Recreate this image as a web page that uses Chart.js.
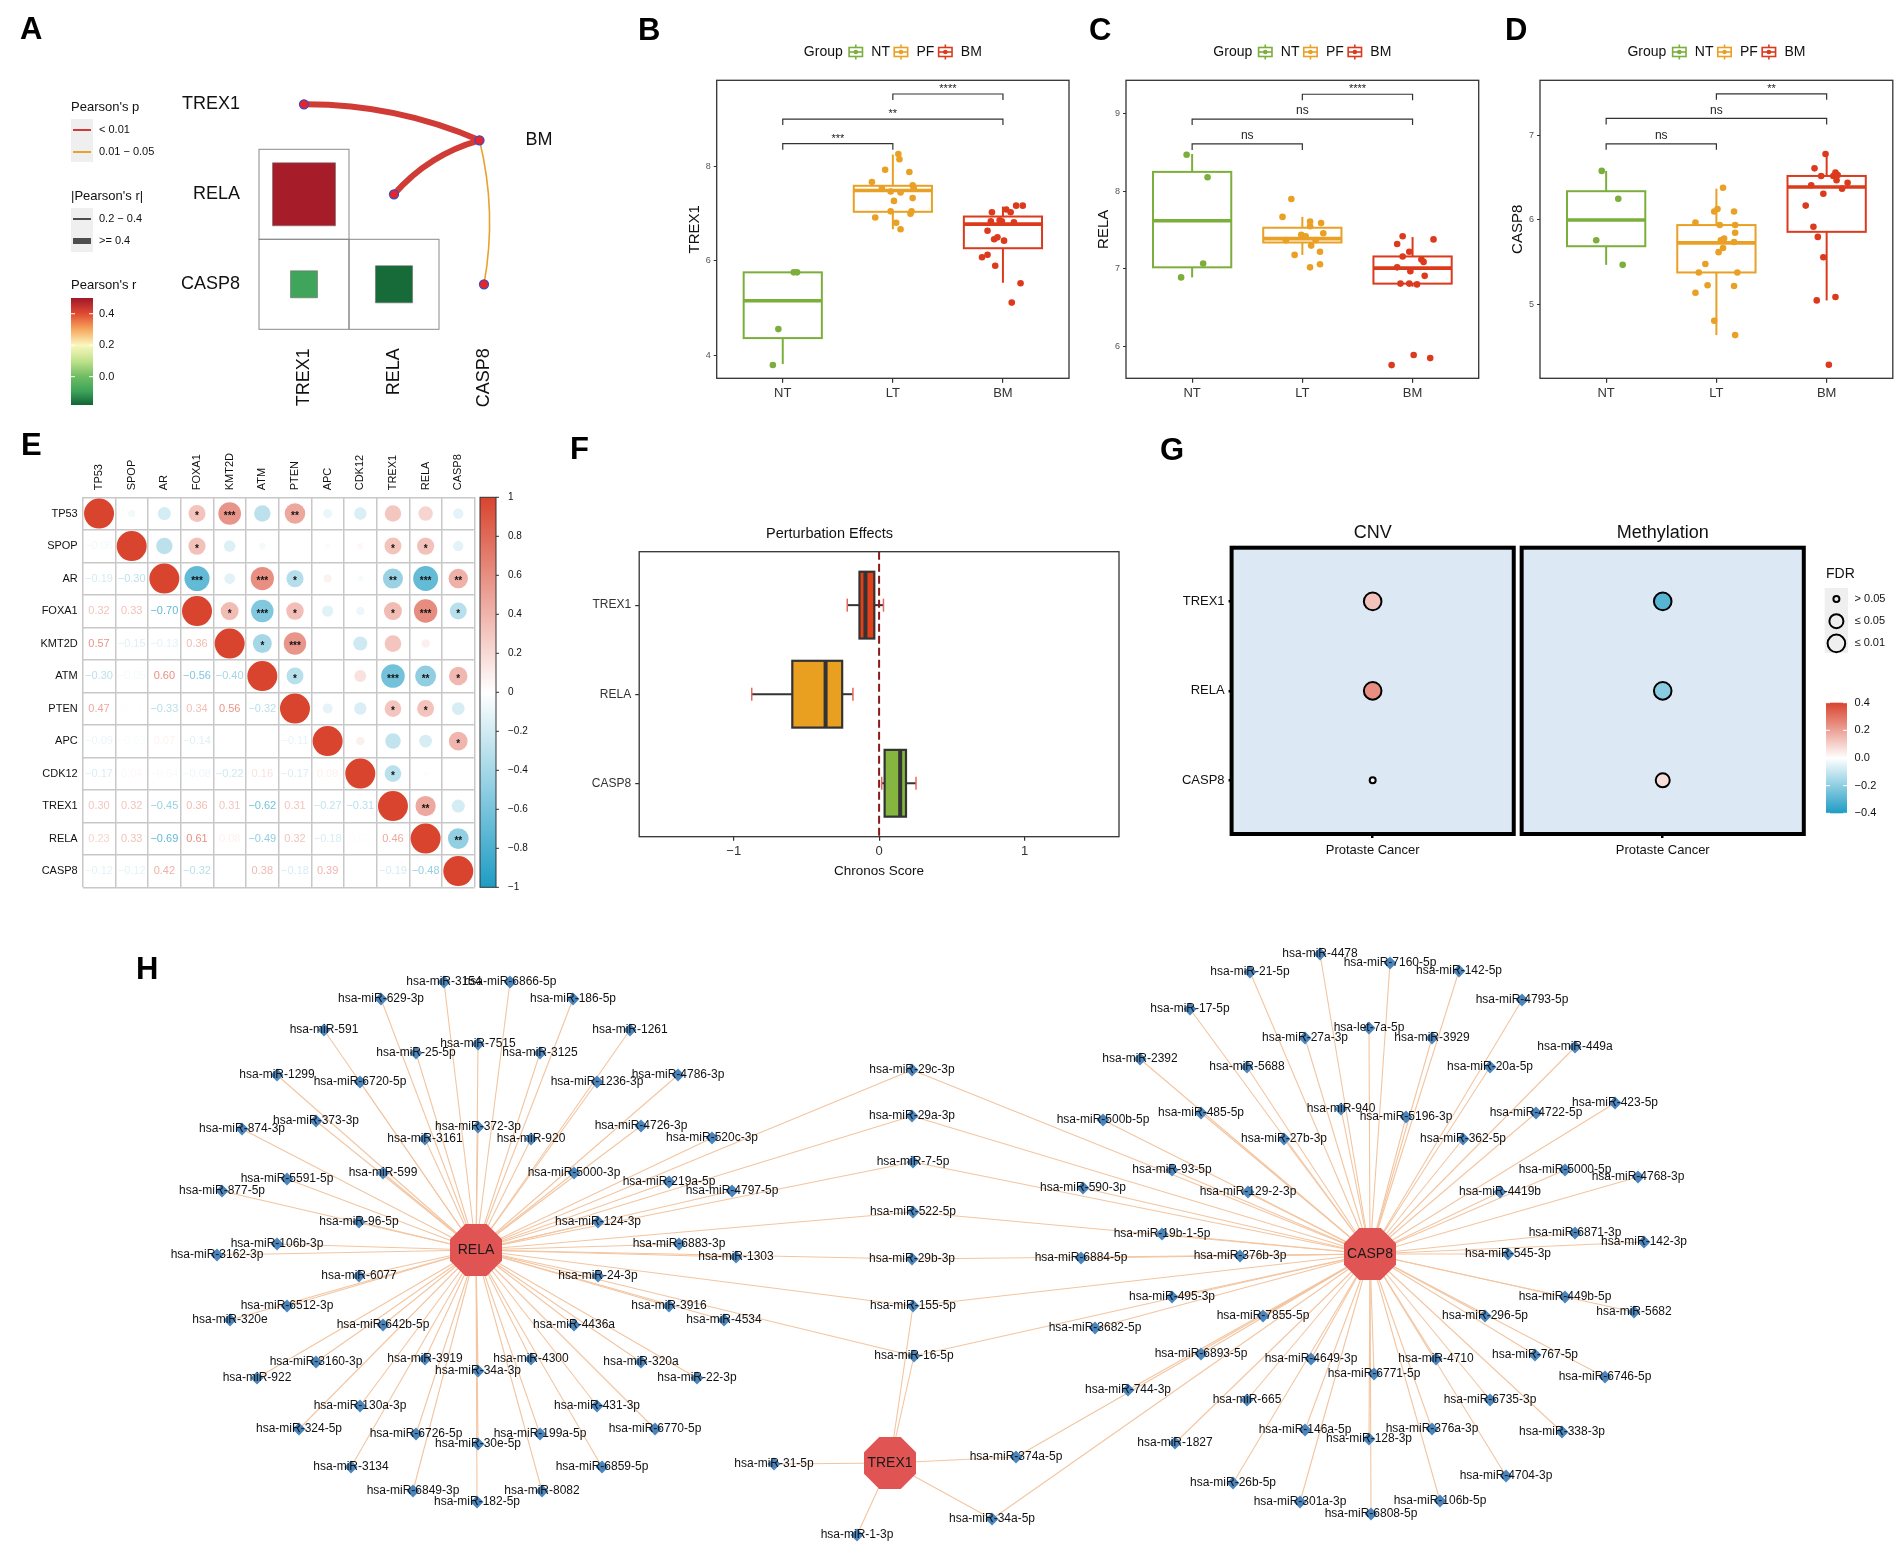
<!DOCTYPE html>
<html>
<head>
<meta charset="utf-8">
<title>TREX1 / RELA / CASP8 figure</title>
<script src="https://cdn.jsdelivr.net/npm/chart.js"></script>
<style>
  body { margin: 0; background: #fff; }
  #page { position: relative; width: 1901px; height: 1550px; overflow: hidden; background: #fff; }
  #page canvas { position: absolute; }
  .tag { position: absolute; font: bold 31px/31px Arial, "Liberation Sans", sans-serif; color: #000; z-index: 2; }
</style>
</head>
<body>
<div id="page">
  <canvas id="chartA" width="620" height="420" style="left:0;top:0"></canvas>
  <canvas id="chartB" width="420" height="420" style="left:660px;top:0"></canvas>
  <canvas id="chartC" width="420" height="420" style="left:1070px;top:0"></canvas>
  <canvas id="chartD" width="417" height="420" style="left:1484px;top:0"></canvas>
  <canvas id="chartE" width="540" height="480" style="left:0;top:420px"></canvas>
  <canvas id="chartF" width="580" height="480" style="left:540px;top:420px"></canvas>
  <canvas id="chartG" width="781" height="480" style="left:1120px;top:420px"></canvas>
  <canvas id="chartH" width="1901" height="610" style="left:0;top:940px"></canvas>
  <div class="tag" style="left:20px;top:13px">A</div>
  <div class="tag" style="left:638px;top:14px">B</div>
  <div class="tag" style="left:1089px;top:14px">C</div>
  <div class="tag" style="left:1505px;top:14px">D</div>
  <div class="tag" style="left:21px;top:429px">E</div>
  <div class="tag" style="left:570px;top:433px">F</div>
  <div class="tag" style="left:1160px;top:434px">G</div>
  <div class="tag" style="left:136px;top:953px">H</div>
</div>

<script>
// ---------------- data ----------------

// A: correlations between the three genes in BM, and their link to BM
const aGenes = ['TREX1', 'RELA', 'CASP8'];
const aPairRow = ['RELA', 'CASP8', 'CASP8'];
const aPairCol = ['TREX1', 'TREX1', 'RELA'];
const aPairR = [0.49, -0.09, -0.17];
const aLinkP = ['< 0.01', '< 0.01', '0.01 \u2212 0.05'];
const aLinkR = ['>= 0.4', '>= 0.4', '0.2 \u2212 0.4'];

// B-D: expression by group
const groupNames = ['NT', 'LT', 'BM'];
const legendNames = ['NT', 'PF', 'BM'];
const sigPairs = [[0, 1], [0, 2], [1, 2]];

const trex1Vals = [
  [5.76, 5.76, 4.56, 3.80],
  [8.26, 8.15, 7.93, 7.88, 7.67, 7.60, 7.53, 7.53, 7.47, 7.45, 7.27, 7.33, 7.05, 7.00, 7.05, 6.92, 6.81, 6.67],
  [7.17, 7.17, 7.09, 7.03, 7.03, 6.84, 6.86, 6.84, 6.82, 6.64, 6.46, 6.50, 6.43, 6.08, 6.13, 5.90, 5.53, 5.12]
];
const trex1Jit = [
  [0.13, 0.10, -0.04, -0.09],
  [0.05, 0.06, -0.07, 0.15, -0.19, 0.18, -0.10, 0.19, -0.02, 0.07, 0.01, 0.18, -0.02, 0.16, 0.17, -0.16, 0.03, 0.07],
  [0.12, 0.18, 0.03, 0.07, -0.10, -0.11, -0.03, -0.01, 0.10, -0.14, -0.08, -0.05, 0.01, -0.19, -0.14, -0.07, 0.16, 0.08]
];
// [lower whisker, q1, median, q3, upper whisker]
const trex1Box = [[3.82, 4.37, 5.16, 5.76, 5.76], [6.67, 7.04, 7.49, 7.59, 8.25], [5.54, 6.27, 6.78, 6.94, 7.15]];
const trex1Sig = ['***', '**', '****'];

const relaVals = [
  [8.47, 8.18, 7.07, 6.89],
  [7.90, 7.67, 7.61, 7.59, 7.55, 7.46, 7.44, 7.42, 7.37, 7.37, 7.30, 7.22, 7.18, 7.02, 7.06],
  [7.42, 7.38, 7.32, 7.22, 7.16, 7.12, 7.09, 7.02, 6.97, 6.91, 6.81, 6.81, 6.80, 5.76, 5.89, 5.85]
];
const relaJit = [
  [-0.05, 0.14, 0.10, -0.10],
  [-0.10, -0.18, 0.07, 0.17, 0.07, 0.19, -0.01, 0.03, -0.15, 0.12, 0.08, 0.16, -0.07, 0.07, 0.16],
  [-0.09, 0.19, -0.14, -0.03, -0.09, 0.08, 0.10, -0.14, -0.02, 0.11, -0.11, -0.03, 0.04, -0.19, 0.01, 0.16]
];
const relaBox = [[6.89, 7.02, 7.62, 8.25, 8.48], [7.18, 7.34, 7.39, 7.53, 7.67], [6.77, 6.81, 7.01, 7.16, 7.41]];
const relaSig = ['ns', 'ns', '****'];

const casp8Vals = [
  [6.58, 6.25, 5.76, 5.47],
  [6.38, 6.13, 6.10, 6.10, 5.97, 5.94, 5.94, 5.85, 5.78, 5.76, 5.74, 5.67, 5.62, 5.48, 5.38, 5.38, 5.23, 5.22, 5.14, 4.81, 4.64],
  [6.78, 6.61, 6.56, 6.52, 6.52, 6.53, 6.47, 6.44, 6.41, 6.37, 6.31, 6.17, 5.92, 5.80, 5.56, 5.09, 5.05, 4.29]
];
const casp8Jit = [
  [-0.04, 0.11, -0.09, 0.15],
  [0.06, 0.01, -0.02, 0.16, -0.19, 0.03, 0.17, 0.17, 0.07, 0.04, 0.16, 0.06, 0.02, -0.10, -0.16, 0.19, -0.08, 0.16, -0.19, -0.02, 0.17],
  [-0.01, -0.11, 0.08, 0.06, -0.05, 0.10, 0.09, 0.19, -0.14, 0.14, -0.03, -0.19, -0.12, -0.08, -0.03, 0.08, -0.09, 0.02]
];
const casp8Box = [[5.47, 5.69, 6.00, 6.34, 6.58], [4.64, 5.38, 5.73, 5.94, 6.37], [5.05, 5.86, 6.39, 6.52, 6.78]];
const casp8Sig = ['ns', 'ns', '**'];

// E: correlation with common prostate cancer driver genes (lower triangle)
const mutGenes = ['TP53', 'SPOP', 'AR', 'FOXA1', 'KMT2D', 'ATM', 'PTEN', 'APC', 'CDK12', 'TREX1', 'RELA', 'CASP8'];
const mutCorr = [
  [1],
  [-0.06, 1],
  [-0.19, -0.30, 1],
  [0.32, 0.33, -0.70, 1],
  [0.57, -0.15, -0.13, 0.36, 1],
  [-0.30, -0.05, 0.60, -0.56, -0.40, 1],
  [0.47, 0.01, -0.33, 0.34, 0.56, -0.32, 1],
  [-0.09, -0.03, 0.07, -0.14, 0.00, 0.01, -0.11, 1],
  [-0.17, 0.04, -0.04, -0.08, -0.22, 0.16, -0.17, 0.08, 1],
  [0.30, 0.32, -0.45, 0.36, 0.31, -0.62, 0.31, -0.27, -0.31, 1],
  [0.23, 0.33, -0.69, 0.61, 0.08, -0.49, 0.32, -0.18, 0.02, 0.46, 1],
  [-0.12, -0.12, 0.42, -0.32, 0.01, 0.38, -0.18, 0.39, 0.00, -0.19, -0.48, 1]
];
const mutStars = [
  [],
  [''],
  ['', ''],
  ['*', '*', '***'],
  ['***', '', '', '*'],
  ['', '', '***', '***', '*'],
  ['**', '', '*', '*', '***', '*'],
  ['', '', '', '', '', '', ''],
  ['', '', '', '', '', '', '', ''],
  ['', '*', '**', '*', '', '***', '*', '', '*'],
  ['', '*', '***', '***', '', '**', '*', '', '', '**'],
  ['', '', '**', '*', '', '*', '', '*', '', '', '**']
];

// F: DepMap Chronos scores
const depGenes = ['TREX1', 'RELA', 'CASP8'];
const depBox = [[-0.219, -0.135, -0.094, -0.033, 0.030], [-0.876, -0.597, -0.368, -0.254, -0.180], [0.018, 0.038, 0.145, 0.185, 0.254]];

// G: CNV / methylation correlation in prostate cancer
const gGenes = ['TREX1', 'RELA', 'CASP8'];
const cnvCorr = [0.13, 0.24, 0.02];
const cnvFdr = ['\u2264 0.01', '\u2264 0.01', '> 0.05'];
const methCorr = [-0.30, -0.21, 0.07];
const methFdr = ['\u2264 0.01', '\u2264 0.01', '\u2264 0.05'];

// H: miRNA - target network (node positions in layout units)
const hubNames = ['RELA', 'TREX1', 'CASP8'];
const hubKeys = ['R', 'T', 'C'];
const hubX = [476, 890, 1370];
const hubY = [1250, 1463, 1254];
const mirNodes = [
  ['hsa-miR-3154', 444, 982, 'R'], ['hsa-miR-6866-5p', 510, 982, 'R'],
  ['hsa-miR-629-3p', 381, 999, 'R'], ['hsa-miR-186-5p', 573, 999, 'R'],
  ['hsa-miR-591', 324, 1030, 'R'], ['hsa-miR-1261', 630, 1030, 'R'],
  ['hsa-miR-7515', 478, 1044, 'R'], ['hsa-miR-25-5p', 416, 1053, 'R'],
  ['hsa-miR-3125', 540, 1053, 'R'], ['hsa-miR-1299', 277, 1075, 'R'],
  ['hsa-miR-6720-5p', 360, 1082, 'R'], ['hsa-miR-1236-3p', 597, 1082, 'R'],
  ['hsa-miR-4786-3p', 678, 1075, 'R'], ['hsa-miR-373-3p', 316, 1121, 'R'],
  ['hsa-miR-874-3p', 242, 1129, 'R'], ['hsa-miR-372-3p', 478, 1127, 'R'],
  ['hsa-miR-3161', 425, 1139, 'R'], ['hsa-miR-920', 531, 1139, 'R'],
  ['hsa-miR-4726-3p', 641, 1126, 'R'], ['hsa-miR-520c-3p', 712, 1138, 'R'],
  ['hsa-miR-599', 383, 1173, 'R'], ['hsa-miR-5000-3p', 574, 1173, 'R'],
  ['hsa-miR-5591-5p', 287, 1179, 'R'], ['hsa-miR-877-5p', 222, 1191, 'R'],
  ['hsa-miR-219a-5p', 669, 1182, 'R'], ['hsa-miR-4797-5p', 732, 1191, 'R'],
  ['hsa-miR-96-5p', 359, 1222, 'R'], ['hsa-miR-124-3p', 598, 1222, 'R'],
  ['hsa-miR-106b-3p', 277, 1244, 'R'], ['hsa-miR-6883-3p', 679, 1244, 'R'],
  ['hsa-miR-3162-3p', 217, 1255, 'R'], ['hsa-miR-1303', 736, 1257, 'R'],
  ['hsa-miR-6077', 359, 1276, 'R'], ['hsa-miR-24-3p', 598, 1276, 'R'],
  ['hsa-miR-6512-3p', 287, 1306, 'R'], ['hsa-miR-320e', 230, 1320, 'R'],
  ['hsa-miR-3916', 669, 1306, 'R'], ['hsa-miR-4534', 724, 1320, 'R'],
  ['hsa-miR-642b-5p', 383, 1325, 'R'], ['hsa-miR-4436a', 574, 1325, 'R'],
  ['hsa-miR-3160-3p', 316, 1362, 'R'], ['hsa-miR-922', 257, 1378, 'R'],
  ['hsa-miR-3919', 425, 1359, 'R'], ['hsa-miR-34a-3p', 478, 1371, 'R'],
  ['hsa-miR-4300', 531, 1359, 'R'], ['hsa-miR-320a', 641, 1362, 'R'],
  ['hsa-miR-22-3p', 697, 1378, 'R'], ['hsa-miR-130a-3p', 360, 1406, 'R'],
  ['hsa-miR-431-3p', 597, 1406, 'R'], ['hsa-miR-324-5p', 299, 1429, 'R'],
  ['hsa-miR-6770-5p', 655, 1429, 'R'], ['hsa-miR-6726-5p', 416, 1434, 'R'],
  ['hsa-miR-199a-5p', 540, 1434, 'R'], ['hsa-miR-30e-5p', 478, 1444, 'R'],
  ['hsa-miR-3134', 351, 1467, 'R'], ['hsa-miR-6859-5p', 602, 1467, 'R'],
  ['hsa-miR-6849-3p', 413, 1491, 'R'], ['hsa-miR-8082', 542, 1491, 'R'],
  ['hsa-miR-182-5p', 477, 1502, 'R'],
  ['hsa-miR-29c-3p', 912, 1070, 'RC'], ['hsa-miR-29a-3p', 912, 1116, 'RC'],
  ['hsa-miR-7-5p', 913, 1162, 'RC'], ['hsa-miR-522-5p', 913, 1212, 'RC'],
  ['hsa-miR-29b-3p', 912, 1259, 'RC'], ['hsa-miR-155-5p', 913, 1306, 'RCT'],
  ['hsa-miR-16-5p', 914, 1356, 'RCT'],
  ['hsa-miR-31-5p', 774, 1464, 'T'], ['hsa-miR-374a-5p', 1016, 1457, 'TC'],
  ['hsa-miR-34a-5p', 992, 1519, 'TC'], ['hsa-miR-1-3p', 857, 1535, 'T'],
  ['hsa-miR-4478', 1320, 954, 'C'], ['hsa-miR-21-5p', 1250, 972, 'C'],
  ['hsa-miR-7160-5p', 1390, 963, 'C'], ['hsa-miR-142-5p', 1459, 971, 'C'],
  ['hsa-miR-17-5p', 1190, 1009, 'C'], ['hsa-miR-4793-5p', 1522, 1000, 'C'],
  ['hsa-let-7a-5p', 1369, 1028, 'C'], ['hsa-miR-27a-3p', 1305, 1038, 'C'],
  ['hsa-miR-3929', 1432, 1038, 'C'], ['hsa-miR-449a', 1575, 1047, 'C'],
  ['hsa-miR-2392', 1140, 1059, 'C'], ['hsa-miR-5688', 1247, 1067, 'C'],
  ['hsa-miR-20a-5p', 1490, 1067, 'C'], ['hsa-miR-940', 1341, 1109, 'C'],
  ['hsa-miR-5196-3p', 1406, 1117, 'C'], ['hsa-miR-4722-5p', 1536, 1113, 'C'],
  ['hsa-miR-423-5p', 1615, 1103, 'C'], ['hsa-miR-500b-5p', 1103, 1120, 'C'],
  ['hsa-miR-485-5p', 1201, 1113, 'C'], ['hsa-miR-27b-3p', 1284, 1139, 'C'],
  ['hsa-miR-362-5p', 1463, 1139, 'C'], ['hsa-miR-93-5p', 1172, 1170, 'C'],
  ['hsa-miR-5000-5p', 1565, 1170, 'C'], ['hsa-miR-4768-3p', 1638, 1177, 'C'],
  ['hsa-miR-590-3p', 1083, 1188, 'C'], ['hsa-miR-129-2-3p', 1248, 1192, 'C'],
  ['hsa-miR-4419b', 1500, 1192, 'C'], ['hsa-miR-6871-3p', 1575, 1233, 'C'],
  ['hsa-miR-19b-1-5p', 1162, 1234, 'C'], ['hsa-miR-142-3p', 1644, 1242, 'C'],
  ['hsa-miR-545-3p', 1508, 1254, 'C'], ['hsa-miR-376b-3p', 1240, 1256, 'C'],
  ['hsa-miR-6884-5p', 1081, 1258, 'C'], ['hsa-miR-495-3p', 1172, 1297, 'C'],
  ['hsa-miR-449b-5p', 1565, 1297, 'C'], ['hsa-miR-5682', 1634, 1312, 'C'],
  ['hsa-miR-7855-5p', 1263, 1316, 'C'], ['hsa-miR-296-5p', 1485, 1316, 'C'],
  ['hsa-miR-3682-5p', 1095, 1328, 'C'], ['hsa-miR-6893-5p', 1201, 1354, 'C'],
  ['hsa-miR-767-5p', 1535, 1355, 'C'], ['hsa-miR-4649-3p', 1311, 1359, 'C'],
  ['hsa-miR-4710', 1436, 1359, 'C'], ['hsa-miR-6771-5p', 1374, 1374, 'C'],
  ['hsa-miR-6746-5p', 1605, 1377, 'C'], ['hsa-miR-744-3p', 1128, 1390, 'C'],
  ['hsa-miR-665', 1247, 1400, 'C'], ['hsa-miR-6735-3p', 1490, 1400, 'C'],
  ['hsa-miR-146a-5p', 1305, 1430, 'C'], ['hsa-miR-376a-3p', 1432, 1429, 'C'],
  ['hsa-miR-338-3p', 1562, 1432, 'C'], ['hsa-miR-128-3p', 1369, 1439, 'C'],
  ['hsa-miR-1827', 1175, 1443, 'C'], ['hsa-miR-4704-3p', 1506, 1476, 'C'],
  ['hsa-miR-26b-5p', 1233, 1483, 'C'], ['hsa-miR-106b-5p', 1440, 1501, 'C'],
  ['hsa-miR-301a-3p', 1300, 1502, 'C'], ['hsa-miR-6808-5p', 1371, 1514, 'C']
];

// ---------------- styling helpers ----------------
const FONT = 'Arial, "Liberation Sans", Helvetica, sans-serif';
Chart.defaults.font.family = FONT;
Chart.defaults.color = '#222';
Chart.defaults.animation = false;
Chart.defaults.responsive = false;
Chart.defaults.events = [];
Chart.defaults.layout.autoPadding = false;
Chart.defaults.plugins.legend.display = false;
Chart.defaults.plugins.tooltip.enabled = false;

const groupColors = ['#7cae3c', '#e9a024', '#dc3a1d'];
const depColors = ['#e2401b', '#e9a021', '#86b540'];
const pColors = {'< 0.01': '#d03b35', '0.01 \u2212 0.05': '#e9a22d'};
const rWidths = {'0.2 \u2212 0.4': 1.6, '>= 0.4': 6};
const fdrRadius = {'> 0.05': 3, '\u2264 0.05': 7, '\u2264 0.01': 8.8};

function mix(a, b, t) { return 'rgb(' + a.map((c, k) => Math.round(c + (b[k] - c) * t)).join(',') + ')'; }
const RED = [216, 68, 46], BLUE = [30, 156, 196], WHITE = [255, 255, 255];
function divColor(v, lim) {
  const t = Math.max(-1, Math.min(1, v / lim));
  return t >= 0 ? mix(WHITE, RED, t) : mix(WHITE, BLUE, -t);
}
// red-yellow-green ramp used in panel A
const rygStops = [[-0.18, [17, 100, 52]], [-0.09, [63, 165, 90]], [0, [110, 188, 98]], [0.1, [192, 226, 140]],
                  [0.2, [250, 247, 190]], [0.3, [246, 168, 94]], [0.4, [224, 74, 50]], [0.5, [160, 24, 40]]];
function rygColor(v) {
  if (v <= rygStops[0][0]) return mix(rygStops[0][1], rygStops[0][1], 0);
  for (let k = 1; k < rygStops.length; k++) {
    if (v <= rygStops[k][0]) {
      const [v0, c0] = rygStops[k - 1], [v1, c1] = rygStops[k];
      return mix(c0, c1, (v - v0) / (v1 - v0));
    }
  }
  const last = rygStops[rygStops.length - 1][1];
  return mix(last, last, 0);
}
function fmtR(v) { return (v < 0 ? '\u2212' : '') + Math.abs(v).toFixed(2); }
function text(ctx, s, x, y, size, o) {
  o = o || {};
  ctx.font = (o.bold ? 'bold ' : '') + size + 'px ' + FONT;
  ctx.fillStyle = o.color || '#111';
  ctx.textAlign = o.align || 'left';
  ctx.textBaseline = o.base || 'middle';
  ctx.fillText(s, x, y);
}
function seg(ctx, x1, y1, x2, y2) { ctx.beginPath(); ctx.moveTo(x1, y1); ctx.lineTo(x2, y2); ctx.stroke(); }

// ---------------- A ----------------
const aEnvPos = [2.95, 1.4];      // where the BM node sits on the grid
const aBend = [0.105, 0.15, -0.107];

const aPlugin = {
  id: 'aPanel',
  beforeDatasetsDraw(chart) {
    const {ctx, scales: {x, y}} = chart;
    ctx.save();
    ctx.strokeStyle = '#8a8a8a';
    ctx.lineWidth = 1;
    aPairR.forEach((r, k) => {
      const c = aGenes.indexOf(aPairCol[k]) + 1, w = aGenes.indexOf(aPairRow[k]) + 1;
      const x0 = x.getPixelForValue(c - 0.5), x1 = x.getPixelForValue(c + 0.5);
      const y0 = y.getPixelForValue(w - 0.5), y1 = y.getPixelForValue(w + 0.5);
      ctx.strokeRect(x0, y0, x1 - x0, y1 - y0);
    });
    const bx = x.getPixelForValue(aEnvPos[0]), by = y.getPixelForValue(aEnvPos[1]);
    aGenes.forEach((g, k) => {
      const px = x.getPixelForValue(k + 1), py = y.getPixelForValue(k + 1);
      const dx = bx - px, dy = by - py, b = aBend[k];
      ctx.strokeStyle = pColors[aLinkP[k]];
      ctx.lineWidth = rWidths[aLinkR[k]];
      ctx.beginPath();
      ctx.moveTo(px, py);
      ctx.quadraticCurveTo((px + bx) / 2 + dy * b, (py + by) / 2 - dx * b, bx, by);
      ctx.stroke();
    });
    ctx.restore();
  },
  afterDraw(chart) {
    const {ctx, scales: {x, y}} = chart;
    ctx.save();
    aGenes.forEach((g, k) => {
      text(ctx, g, x.getPixelForValue(0.5) - 19, y.getPixelForValue(k + 1), 18, {align: 'right'});
      ctx.save();
      ctx.translate(x.getPixelForValue(k + 1), y.getPixelForValue(3.5) + 19);
      ctx.rotate(-Math.PI / 2);
      text(ctx, g, 0, 0, 18, {align: 'right'});
      ctx.restore();
    });
    text(ctx, 'BM', x.getPixelForValue(aEnvPos[0]) + 46, y.getPixelForValue(aEnvPos[1]), 18);

    // legends
    text(ctx, "Pearson's p", 71, 107, 13);
    ctx.fillStyle = '#efefef';
    ctx.fillRect(71, 119, 22, 43);
    Object.keys(pColors).forEach((p, k) => {
      const yy = 130 + 22 * k;
      ctx.strokeStyle = pColors[p]; ctx.lineWidth = 2;
      seg(ctx, 73, yy, 91, yy);
      text(ctx, p, 99, yy, 11);
    });
    text(ctx, "|Pearson's r|", 71, 196, 13);
    ctx.fillStyle = '#efefef';
    ctx.fillRect(71, 208, 22, 44);
    Object.keys(rWidths).forEach((r, k) => {
      const yy = 219 + 22 * k;
      ctx.strokeStyle = '#4d4d4d'; ctx.lineWidth = k ? 6 : 2;
      seg(ctx, 73, yy, 91, yy);
      text(ctx, r, 99, yy, 11);
    });
    text(ctx, "Pearson's r", 71, 285, 13);
    const cbTop = 298, cbBot = 405, vTop = 0.5, vBot = -0.18;
    const grad = ctx.createLinearGradient(0, cbBot, 0, cbTop);
    rygStops.forEach(([v, c]) => grad.addColorStop((v - vBot) / (vTop - vBot), mix(c, c, 0)));
    ctx.fillStyle = grad;
    ctx.fillRect(71, cbTop, 22, cbBot - cbTop);
    [0.4, 0.2, 0.0].forEach(v => {
      const yy = cbBot - (v - vBot) / (vTop - vBot) * (cbBot - cbTop);
      ctx.strokeStyle = '#fff'; ctx.lineWidth = 1;
      seg(ctx, 71, yy, 75, yy); seg(ctx, 89, yy, 93, yy);
      text(ctx, v.toFixed(1), 99, yy, 11);
    });
    ctx.restore();
  }
};

new Chart(document.getElementById('chartA'), {
  type: 'scatter',
  data: {datasets: [
    {data: aGenes.map((g, i) => ({x: i + 1, y: i + 1})).concat([{x: aEnvPos[0], y: aEnvPos[1]}]),
     pointRadius: 4.5, backgroundColor: '#e8242b', borderColor: '#3d4cbf', borderWidth: 1.3, order: 0},
    {data: aPairR.map((r, k) => ({x: aGenes.indexOf(aPairCol[k]) + 1, y: aGenes.indexOf(aPairRow[k]) + 1, r: r})),
     pointStyle: 'rect',
     pointRadius: c => {
       if (!c.raw) return 0;
       const s = c.chart.scales.x;
       const cell = s.getPixelForValue(1) - s.getPixelForValue(0);
       return cell * Math.sqrt(Math.abs(c.raw.r)) / Math.SQRT2;
     },
     backgroundColor: c => c.raw ? rygColor(c.raw.r) : '#000',
     borderColor: '#6e6e6e', borderWidth: 0.6, order: 1}
  ]},
  options: {
    scales: {
      x: {type: 'linear', display: false, min: -214 / 90, max: 406 / 90},
      y: {type: 'linear', display: false, reverse: true, min: -14.3 / 90, max: 405.7 / 90}
    }
  },
  plugins: [aPlugin]
});

// ---------------- B, C, D ----------------
function drawKey(ctx, x0, yc, color) {
  ctx.strokeStyle = color; ctx.lineWidth = 1.6;
  ctx.strokeRect(x0 + 0.8, yc - 4.5, 13.4, 9);
  seg(ctx, x0 + 0.8, yc, x0 + 14.2, yc);
  seg(ctx, x0 + 7.5, yc - 7.5, x0 + 7.5, yc - 4.5);
  seg(ctx, x0 + 7.5, yc + 4.5, x0 + 7.5, yc + 7.5);
  ctx.fillStyle = color;
  ctx.beginPath(); ctx.arc(x0 + 7.5, yc, 2.3, 0, Math.PI * 2); ctx.fill();
}

function boxPanel(id, cfg) {
  const plugin = {
    id: 'box' + id,
    beforeDatasetsDraw(chart) {
      const {ctx, scales: {x, y}} = chart;
      ctx.save();
      cfg.box.forEach((b, g) => {
        const cx = x.getPixelForValue(g + 1), hw = x.getPixelForValue(g + 1.355) - cx;
        const [lo, q1, md, q3, hi] = b.map(v => y.getPixelForValue(v));
        ctx.strokeStyle = groupColors[g];
        ctx.lineWidth = 2;
        seg(ctx, cx, hi, cx, q3);
        seg(ctx, cx, q1, cx, lo);
        ctx.strokeRect(cx - hw, q3, 2 * hw, q1 - q3);
        ctx.lineWidth = 3.6;
        seg(ctx, cx - hw, md, cx + hw, md);
      });
      ctx.restore();
    },
    afterDatasetsDraw(chart) {
      const {ctx, scales: {x, y}} = chart;
      ctx.save();
      ctx.strokeStyle = '#333';
      ctx.lineWidth = 1.2;
      sigPairs.forEach(([g1, g2], k) => {
        const x1 = x.getPixelForValue(g1 + 1), x2 = x.getPixelForValue(g2 + 1);
        const yy = y.getPixelForValue(cfg.sigLevel[k]);
        ctx.beginPath();
        ctx.moveTo(x1, yy + 6); ctx.lineTo(x1, yy); ctx.lineTo(x2, yy); ctx.lineTo(x2, yy + 6);
        ctx.stroke();
        const s = cfg.sig[k];
        if (s === 'ns') text(ctx, s, (x1 + x2) / 2, yy - 8, 12, {align: 'center', color: '#222'});
        else text(ctx, s, (x1 + x2) / 2, yy - 5, 11, {align: 'center', color: '#222'});
      });
      ctx.restore();
    },
    afterDraw(chart) {
      const {ctx, chartArea: a} = chart;
      ctx.save();
      ctx.strokeStyle = '#333';
      ctx.lineWidth = 1.3;
      ctx.strokeRect(a.left, a.top, a.right - a.left, a.bottom - a.top);
      // legend on top
      ctx.font = '14px ' + FONT;
      const wGroup = ctx.measureText('Group').width;
      const ws = legendNames.map(n => ctx.measureText(n).width);
      const total = wGroup + 5.5 + ws.reduce((s, w) => s + w, 0) + 3 * 15 + 3 * 8 + 2 * 3.5;
      let lx = (a.left + a.right) / 2 - total / 2;
      const ly = 52;
      text(ctx, 'Group', lx, ly, 14);
      lx += wGroup + 5.5;
      legendNames.forEach((n, g) => {
        drawKey(ctx, lx, ly, groupColors[g]);
        lx += 15 + 8;
        text(ctx, n, lx, ly, 14);
        lx += ws[g] + 3.5;
      });
      ctx.restore();
    }
  };

  return new Chart(document.getElementById(id), {
    type: 'scatter',
    data: {datasets: cfg.vals.map((vals, g) => ({
      data: vals.map((v, k) => ({x: g + 1 + cfg.jit[g][k], y: v})),
      backgroundColor: groupColors[g], pointRadius: 3.3, borderWidth: 0
    }))},
    options: {
      layout: {padding: {top: 80.3, right: cfg.padR, left: 0, bottom: 0}},
      scales: {
        x: {type: 'linear', min: 0.4, max: 3.6,
            afterBuildTicks: s => { s.ticks = [1, 2, 3].map(v => ({value: v})); },
            afterFit: s => { s.height = 41.7; },
            ticks: {callback: v => groupNames[v - 1], font: {size: 13}, color: '#333', padding: 3, maxRotation: 0, autoSkip: false},
            grid: {drawOnChartArea: false, tickLength: 4.5, color: '#333', lineWidth: 1.2},
            border: {display: false}},
        y: {type: 'linear', min: cfg.yMin, max: cfg.yMax,
            afterBuildTicks: s => { s.ticks = cfg.yTicks.map(v => ({value: v})); },
            afterFit: s => { s.width = cfg.axisW; },
            ticks: {font: {size: 9}, color: '#555', padding: 3},
            grid: {drawOnChartArea: false, tickLength: 3, color: '#333', lineWidth: 1},
            border: {display: false},
            title: {display: true, text: cfg.title, font: {size: 15}, color: '#111', padding: {top: cfg.axisW - 31, bottom: 0}}}
      }
    },
    plugins: [plugin]
  });
}

boxPanel('chartB', {vals: trex1Vals, jit: trex1Jit, box: trex1Box, sig: trex1Sig, sigLevel: [8.48, 9.0, 9.53],
                    yMin: 3.52, yMax: 9.82, yTicks: [4, 6, 8], title: 'TREX1', axisW: 56.7, padR: 11});
boxPanel('chartC', {vals: relaVals, jit: relaJit, box: relaBox, sig: relaSig, sigLevel: [8.61, 8.93, 9.25],
                    yMin: 5.59, yMax: 9.43, yTicks: [6, 7, 8, 9], title: 'RELA', axisW: 56, padR: 11.3});
boxPanel('chartD', {vals: casp8Vals, jit: casp8Jit, box: casp8Box, sig: casp8Sig, sigLevel: [6.90, 7.20, 7.49],
                    yMin: 4.13, yMax: 7.65, yTicks: [5, 6, 7], title: 'CASP8', axisW: 56, padR: 8.2});

// ---------------- E ----------------
const eCircles = [];
mutGenes.forEach((gi, i) => mutGenes.forEach((gj, j) => {
  if (j >= i) eCircles.push({x: gj, y: gi, v: j === i ? 1 : mutCorr[j][i]});
}));

const ePlugin = {
  id: 'eMatrix',
  afterDatasetsDraw(chart) {
    const {ctx, scales: {x, y}} = chart;
    ctx.save();
    for (let i = 1; i < mutGenes.length; i++) {
      for (let j = 0; j < i; j++) {
        const v = mutCorr[i][j];
        text(ctx, fmtR(v), x.getPixelForValue(j), y.getPixelForValue(i), 11, {align: 'center', color: divColor(v, 1)});
        const s = mutStars[i][j];
        if (s) text(ctx, s, x.getPixelForValue(i), y.getPixelForValue(j) + 3, 10, {align: 'center', color: '#111', bold: true});
      }
    }
    ctx.restore();
  },
  afterDraw(chart) {
    const {ctx, chartArea: a} = chart;
    ctx.save();
    const x0 = 480, w = 16, top = a.top, bot = a.bottom;
    const grad = ctx.createLinearGradient(0, top, 0, bot);
    grad.addColorStop(0, divColor(1, 1));
    grad.addColorStop(0.5, divColor(0, 1));
    grad.addColorStop(1, divColor(-1, 1));
    ctx.fillStyle = grad;
    ctx.fillRect(x0, top, w, bot - top);
    ctx.strokeStyle = '#333'; ctx.lineWidth = 1;
    ctx.strokeRect(x0, top, w, bot - top);
    [1, 0.8, 0.6, 0.4, 0.2, 0, -0.2, -0.4, -0.6, -0.8, -1].forEach(v => {
      const yy = top + (1 - v) / 2 * (bot - top);
      seg(ctx, x0 + w, yy, x0 + w + 3, yy);
      text(ctx, (v < 0 ? '\u2212' : '') + Math.abs(v), 508, yy, 10);
    });
    ctx.restore();
  }
};

new Chart(document.getElementById('chartE'), {
  type: 'scatter',
  data: {datasets: [{
    data: eCircles,
    pointRadius: c => c.raw ? 15 * Math.sqrt(Math.abs(c.raw.v)) : 0,
    backgroundColor: c => c.raw ? divColor(c.raw.v, 1) : '#fff',
    borderWidth: 0
  }]},
  options: {
    layout: {padding: {top: 0, left: 0, right: 65.4, bottom: 12.7}},
    scales: {
      x: {type: 'category', labels: mutGenes, position: 'top', offset: true,
          afterFit: s => { s.height = 77.3; },
          grid: {offset: true, color: '#c8c8c8', lineWidth: 1.5, drawTicks: false},
          border: {display: false},
          ticks: {minRotation: 90, maxRotation: 90, padding: 7, labelOffset: 13.2, font: {size: 11}, color: '#111', autoSkip: false}},
      y: {type: 'category', labels: mutGenes, offset: true,
          afterFit: s => { s.width = 82.7; },
          grid: {offset: true, color: '#c8c8c8', lineWidth: 1.5, drawTicks: false},
          border: {display: false},
          ticks: {padding: 5, font: {size: 11}, color: '#111', autoSkip: false}}
    }
  },
  plugins: [ePlugin]
});

// ---------------- F ----------------
const fPlugin = {
  id: 'fBoxes',
  afterDatasetsDraw(chart) {
    const {ctx, chartArea: a, scales: {x, y}} = chart;
    ctx.save();
    depBox.forEach((b, i) => {
      const cy = y.getPixelForValue(3 - i);
      const hh = Math.abs(y.getPixelForValue(3 - i + 0.375) - cy);
      const [lo, q1, md, q3, hi] = b.map(v => x.getPixelForValue(v));
      ctx.strokeStyle = '#333'; ctx.lineWidth = 2;
      seg(ctx, lo, cy, q1, cy);
      seg(ctx, q3, cy, hi, cy);
      ctx.strokeStyle = '#e8675c'; ctx.lineWidth = 1.5;
      seg(ctx, lo, cy - 6.5, lo, cy + 6.5);
      seg(ctx, hi, cy - 6.5, hi, cy + 6.5);
      ctx.fillStyle = depColors[i];
      ctx.fillRect(q1, cy - hh, q3 - q1, 2 * hh);
      ctx.strokeStyle = '#333'; ctx.lineWidth = 2.2;
      ctx.strokeRect(q1, cy - hh, q3 - q1, 2 * hh);
      ctx.lineWidth = 4;
      seg(ctx, md, cy - hh, md, cy + hh);
    });
    const zx = x.getPixelForValue(0);
    ctx.setLineDash([8, 4]);
    ctx.strokeStyle = '#8b1a1a'; ctx.lineWidth = 2;
    seg(ctx, zx, a.top, zx, a.bottom);
    ctx.setLineDash([]);
    ctx.strokeStyle = '#333'; ctx.lineWidth = 1.3;
    ctx.strokeRect(a.left, a.top, a.right - a.left, a.bottom - a.top);
    ctx.restore();
  }
};

new Chart(document.getElementById('chartF'), {
  type: 'scatter',
  data: {datasets: []},
  options: {
    layout: {padding: {top: 105.6, right: 1, left: 0, bottom: 0}},
    scales: {
      x: {type: 'linear', min: -1.65, max: 1.65,
          afterBuildTicks: s => { s.ticks = [-1, 0, 1].map(v => ({value: v})); },
          afterFit: s => { s.height = 63.3; },
          ticks: {callback: v => v < 0 ? '\u2212' + (-v) : String(v), font: {size: 13}, color: '#333', padding: 3},
          grid: {drawOnChartArea: false, tickLength: 4, color: '#333', lineWidth: 1.2},
          border: {display: false},
          title: {display: true, text: 'Chronos Score', font: {size: 13.5}, color: '#111', padding: {top: 0, bottom: 20.2}}},
      y: {type: 'linear', min: 0.4, max: 3.6,
          afterBuildTicks: s => { s.ticks = [1, 2, 3].map(v => ({value: v})); },
          afterFit: s => { s.width = 99.2; },
          ticks: {callback: v => depGenes[3 - v], font: {size: 12}, color: '#333', padding: 4},
          grid: {drawOnChartArea: false, tickLength: 4, color: '#333', lineWidth: 1.2},
          border: {display: false}}
    },
    plugins: {
      title: {display: true, text: 'Perturbation Effects', font: {size: 14.5, weight: 'normal'}, color: '#111', padding: {top: 0, bottom: 8.7}}
    }
  },
  plugins: [fPlugin]
});

// ---------------- G ----------------
const gFacets = [[0, 1], [1.028, 2.028]];
const gFacetNames = ['CNV', 'Methylation'];

const gPlugin = {
  id: 'gPanel',
  beforeDatasetsDraw(chart) {
    const {ctx, chartArea: a, scales: {x}} = chart;
    ctx.save();
    ctx.fillStyle = '#dce8f4';
    gFacets.forEach(([lo, hi]) => {
      const x0 = x.getPixelForValue(lo), x1 = x.getPixelForValue(hi);
      ctx.fillRect(x0, a.top, x1 - x0, a.bottom - a.top);
    });
    ctx.restore();
  },
  afterDatasetsDraw(chart) {
    const {ctx, chartArea: a, scales: {x}} = chart;
    ctx.save();
    ctx.strokeStyle = '#000'; ctx.lineWidth = 4;
    gFacets.forEach(([lo, hi], f) => {
      const x0 = x.getPixelForValue(lo), x1 = x.getPixelForValue(hi);
      ctx.strokeRect(x0, a.top, x1 - x0, a.bottom - a.top);
      text(ctx, gFacetNames[f], (x0 + x1) / 2, a.top - 14.4, 18, {align: 'center'});
    });
    ctx.restore();
  },
  afterDraw(chart) {
    const {ctx} = chart;
    ctx.save();
    // FDR size legend
    text(ctx, 'FDR', 706, 154.3, 14);
    ctx.fillStyle = '#efefef';
    ctx.fillRect(704.7, 168, 23.3, 65);
    Object.keys(fdrRadius).forEach((k, i) => {
      const yy = 179 + 22.2 * i;
      ctx.beginPath(); ctx.arc(716.4, yy, fdrRadius[k], 0, Math.PI * 2);
      ctx.strokeStyle = '#000'; ctx.lineWidth = 2; ctx.stroke();
      text(ctx, k, 734.6, yy, 11);
    });
    // colour bar
    const x0 = 706, w = 21, top = 282.7, bot = 393.3;
    const grad = ctx.createLinearGradient(0, top, 0, bot);
    grad.addColorStop(0, divColor(0.4, 0.4));
    grad.addColorStop(0.5, divColor(0, 0.4));
    grad.addColorStop(1, divColor(-0.4, 0.4));
    ctx.fillStyle = grad;
    ctx.fillRect(x0, top, w, bot - top);
    [0.4, 0.2, 0, -0.2, -0.4].forEach(v => {
      const yy = top + (0.4 - v) / 0.8 * (bot - top);
      ctx.strokeStyle = '#fff'; ctx.lineWidth = 1;
      seg(ctx, x0, yy, x0 + 4, yy); seg(ctx, x0 + w - 4, yy, x0 + w, yy);
      text(ctx, (v < 0 ? '\u2212' : '') + Math.abs(v).toFixed(1), 734.6, yy, 11);
    });
    ctx.restore();
  }
};

new Chart(document.getElementById('chartG'), {
  type: 'scatter',
  data: {datasets: [[cnvCorr, cnvFdr], [methCorr, methFdr]].map(([vals, fdr], f) => ({
    data: vals.map((v, i) => ({x: (gFacets[f][0] + gFacets[f][1]) / 2, y: 3 - i, v: v, fdr: fdr[i]})),
    pointRadius: c => c.raw ? fdrRadius[c.raw.fdr] : 0,
    backgroundColor: c => c.raw ? divColor(c.raw.v, 0.4) : '#fff',
    borderColor: '#000', borderWidth: 2
  }))},
  options: {
    layout: {padding: {top: 127.7, right: 97.2, left: 0, bottom: 0}},
    scales: {
      x: {type: 'linear', min: 0, max: 2.028,
          afterBuildTicks: s => { s.ticks = gFacets.map(f => ({value: (f[0] + f[1]) / 2})); },
          afterFit: s => { s.height = 66; },
          ticks: {callback: () => 'Protaste Cancer', font: {size: 13}, color: '#111', padding: 5},
          grid: {drawOnChartArea: false, tickLength: 4, color: '#000', lineWidth: 2.5},
          border: {display: false}},
      y: {type: 'linear', min: 0.4, max: 3.6,
          afterBuildTicks: s => { s.ticks = [1, 2, 3].map(v => ({value: v})); },
          afterFit: s => { s.width = 111.6; },
          ticks: {callback: v => gGenes[3 - v], font: {size: 13}, color: '#111', padding: 4},
          grid: {drawOnChartArea: false, tickLength: 3, color: '#000', lineWidth: 2.5},
          border: {display: false}}
    }
  },
  plugins: [gPlugin]
});

// ---------------- H ----------------
function octagon(d, color) {
  const c = document.createElement('canvas');
  c.width = d; c.height = d;
  const g = c.getContext('2d');
  const r = d / 2 / Math.cos(Math.PI / 8);
  g.beginPath();
  for (let k = 0; k < 8; k++) {
    const ang = Math.PI / 8 + k * Math.PI / 4;
    g.lineTo(d / 2 + r * Math.cos(ang), d / 2 + r * Math.sin(ang));
  }
  g.closePath();
  g.fillStyle = color;
  g.fill();
  return c;
}

const edgeSets = [];
mirNodes.forEach(([name, mx, my, hubs]) => {
  hubs.split('').forEach(h => {
    const k = hubKeys.indexOf(h);
    edgeSets.push({data: [{x: hubX[k], y: hubY[k]}, {x: mx, y: my}], showLine: true, pointRadius: 0,
                   borderColor: '#f3c5a0', borderWidth: 1.1, order: 2});
  });
});

const hPlugin = {
  id: 'hLabels',
  afterDatasetsDraw(chart) {
    const {ctx, scales: {x, y}} = chart;
    ctx.save();
    mirNodes.forEach(([name, mx, my]) => {
      text(ctx, name, x.getPixelForValue(mx), y.getPixelForValue(my), 12, {align: 'center', color: '#111'});
    });
    hubNames.forEach((n, k) => {
      text(ctx, n, x.getPixelForValue(hubX[k]), y.getPixelForValue(hubY[k]), 14, {align: 'center', color: '#1a1a1a'});
    });
    ctx.restore();
  }
};

new Chart(document.getElementById('chartH'), {
  type: 'scatter',
  data: {datasets: [
    {data: hubX.map((v, k) => ({x: v, y: hubY[k]})), pointStyle: octagon(52, '#e05453'), pointRadius: 26, order: 0},
    {data: mirNodes.map(n => ({x: n[1], y: n[2]})), pointStyle: 'rectRot', pointRadius: 6.5,
     backgroundColor: '#4a86bd', borderWidth: 0, order: 1}
  ].concat(edgeSets)},
  options: {
    scales: {
      x: {type: 'linear', display: false, min: 0, max: 1901},
      y: {type: 'linear', display: false, min: 940, max: 1550, reverse: true}
    }
  },
  plugins: [hPlugin]
});
</script>
</body>
</html>
